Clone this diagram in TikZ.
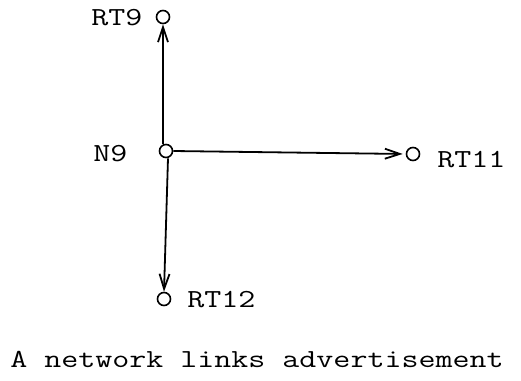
\documentclass[tikz,border=0pt]{standalone}
\usepackage{graphicx}
\usetikzlibrary{arrows.meta}

\newcommand{\wtt}[1]{\scalebox{1.27}[1]{\fontsize{13}{15}\ttfamily #1}}

\tikzset{
    rtr/.style={draw, circle, minimum size=6.5pt, inner sep=0pt, line width=0.8pt},
    lbl/.style={inner sep=0pt, anchor=base west},
    lnk/.style={line width=0.9pt, -{Straight Barb[length=7.5pt,width=5pt,line width=0.9pt]}}
}

\begin{document}
\begin{tikzpicture}[x=0.5pt, y=-0.5pt]
    \useasboundingbox (0,0) rectangle (521,381);
    % routers and network
    \node[rtr] (n9) at (166,151) {};
    \node[rtr] (rt9) at (163,17) {};
    \node[rtr] (rt11) at (413,154) {};
    \node[rtr] (rt12) at (164,299) {};
    % labels
    \node[lbl] (n9l) at (93,161) {\wtt{N9}};
    \node[lbl] (rt9l) at (91,25) {\wtt{RT9}};
    \node[lbl] (rt11l) at (437,167) {\wtt{RT11}};
    \node[lbl] (rt12l) at (187,307) {\wtt{RT12}};
    % links
    \draw[lnk] ([xshift=-1.5pt]n9.north) -- (rt9.south);
    \draw[lnk, shorten >=1.5pt] (n9.east) -- (rt11.west);
    \draw[lnk] ([xshift=1pt]n9.south) -- (rt12.north);
    % caption
    \node[lbl] (cap) at (10,367) {\wtt{A network links advertisement}};
\end{tikzpicture}
\end{document}
